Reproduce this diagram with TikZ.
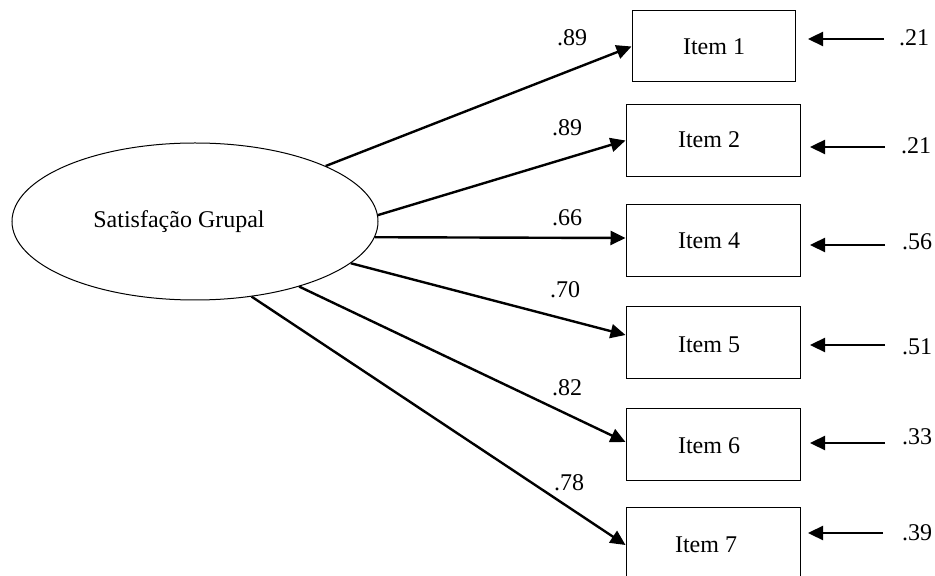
\documentclass[tikz,border=0pt]{standalone}
\usepackage{fontspec}
\setmainfont{Liberation Serif}
\usetikzlibrary{arrows.meta,shapes.geometric}
\begin{document}
\begin{tikzpicture}[x=0.5pt,y=-0.5pt,
  every node/.style={font=\fontsize{12}{14}\selectfont},
  itembox/.style={draw,line width=0.5pt,rectangle,minimum width=87pt,minimum height=36pt,inner sep=0pt},
  latent/.style={draw,line width=0.5pt,ellipse,minimum width=183pt,minimum height=78.5pt,inner sep=0pt},
  path/.style={line width=1.2pt,-{Triangle[length=7.5pt,width=7pt]}},
  lbl/.style={inner sep=0pt,anchor=center}]
\useasboundingbox (0,0) rectangle (935,576);
\node[latent] (F) at (195,221.5) {};
\node[lbl] (Ft) at (179,222) {Satisfação Grupal};
\node[itembox,minimum width=81.5pt,minimum height=35.5pt] (B1) at (713.5,46.5) {};
\node[itembox] (B2) at (713,140.5) {};
\node[itembox] (B4) at (713,241) {};
\node[itembox] (B5) at (713,343) {};
\node[itembox] (B6) at (713,444) {};
\node[itembox] (B7) at (713,543) {};
\node[lbl] (T1) at (714,47) {Item 1};
\node[lbl] (T2) at (709,140) {Item 2};
\node[lbl] (T4) at (709,241) {Item 4};
\node[lbl] (T5) at (709,345) {Item 5};
\node[lbl] (T6) at (709,446) {Item 6};
\node[lbl] (T7) at (706,545) {Item 7};
% loadings
\draw[path] (F.23.3) -- ([yshift=0pt]B1.west);
\draw[path] (F.2.3) -- ([yshift=0pt]B2.west);
\draw[path] (F.-5.3) -- ([yshift=1.5pt]B4.west);
\draw[path] (F.-15) -- ([yshift=4pt]B5.west);
\draw[path] (F.-32.9) -- ([yshift=1pt]B6.west);
\draw[path] (F.-53.1) -- ([yshift=-1pt]B7.west);
\node[lbl] (L1) at (572,38) {.89};
\node[lbl] (L2) at (567,128) {.89};
\node[lbl] (L4) at (567,218) {.66};
\node[lbl] (L5) at (565,290) {.70};
\node[lbl] (L6) at (567,388) {.82};
\node[lbl] (L7) at (569,483) {.78};
% residuals
\coordinate (r1) at (884,39);  \coordinate (e1) at (808,39);
\coordinate (r2) at (885,147); \coordinate (e2) at (810,147);
\coordinate (r4) at (885,245); \coordinate (e4) at (810,245);
\coordinate (r5) at (885,345); \coordinate (e5) at (810,345);
\coordinate (r6) at (885,443); \coordinate (e6) at (810,443);
\coordinate (r7) at (883,533); \coordinate (e7) at (808,533);
\foreach \i in {1,2,4,5,6,7} {\draw[path] (r\i) -- (e\i);}
\node[lbl] (R1) at (914,38) {.21};
\node[lbl] (R2) at (916,146) {.21};
\node[lbl] (R4) at (917,242) {.56};
\node[lbl] (R5) at (917,347) {.51};
\node[lbl] (R6) at (917,437) {.33};
\node[lbl] (R7) at (917,533) {.39};
\end{tikzpicture}
\end{document}
